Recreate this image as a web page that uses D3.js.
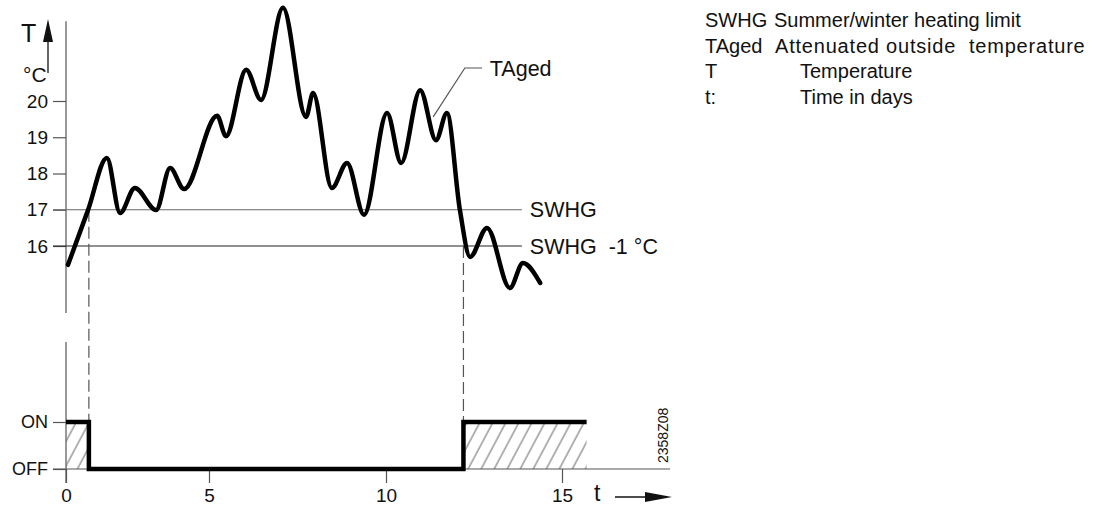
<!DOCTYPE html>
<html lang="en">
<head>
<meta charset="utf-8">
<title>SWHG - summer/winter heating limit</title>
<script src="https://cdnjs.cloudflare.com/ajax/libs/d3/7.8.5/d3.min.js"></script>
<style>
  body { margin: 0; background: #fff; }
  svg text { font-family: Arial, "Liberation Sans", sans-serif; fill: #111; }
  .thin { stroke: #555; stroke-width: 1.2px; fill: none; }
</style>
</head>
<body>
<div id="vis"></div>
<script>
// attenuated outside temperature (TAged)
var days  = [0.07, 0.77, 1.43, 1.89, 2.41, 3.15, 3.64, 4.13, 5.23, 5.48, 6.05, 6.47, 7.09, 7.74, 7.94,
             8.47, 8.90, 9.38, 10.03, 10.43, 10.97, 11.42, 11.73, 12.10, 12.39, 12.87, 13.52, 13.89, 14.38];
var taged = [15.48, 16.99, 18.43, 16.91, 17.60, 16.99, 18.15, 17.57, 19.59, 19.03, 20.86, 20.03, 22.57, 19.56, 20.22,
             17.60, 18.29, 16.86, 19.67, 18.29, 20.30, 18.92, 19.67, 16.99, 15.70, 16.50, 14.84, 15.53, 14.98];

// heating on/off switching
var switchDays  = [0, 0.8, 12.2, 15.7];
var switchState = ['ON', 'OFF', 'ON', 'ON'];

var tempTicks = [16, 17, 18, 19, 20];
var dayTicks = [0, 5, 10, 15];
var swhg = 17;
var limits = [{ v: swhg, label: 'SWHG' }, { v: swhg - 1, label: 'SWHG  -1 °C' }];

var legendKeys = ['SWHG', 'TAged', 'T', 't:'];
var legendText = ['Summer/winter heating limit', 'Attenuated outside  temperature', 'Temperature', 'Time in days'];

var width = 1104, height = 506;

var svg = d3.select('#vis').append('svg')
    .attr('width', width)
    .attr('height', height);

// drawing is not linear near the origin, so a polylinear scale
var x = d3.scaleLinear().domain([0, 5, 10, 15]).range([66, 209, 386, 562]);
var y = d3.scaleLinear().domain([16, 20]).range([246, 101]);
var ys = d3.scalePoint().domain(['OFF', 'ON']).range([469, 422]);

var defs = svg.append('defs');
defs.append('pattern')
    .attr('id', 'hatch')
    .attr('patternUnits', 'userSpaceOnUse')
    .attr('width', 11.5).attr('height', 11.5)
    .attr('patternTransform', 'rotate(28)')
    .append('line')
    .attr('x1', 1).attr('y1', 0).attr('x2', 1).attr('y2', 11.5)
    .attr('stroke', '#666').attr('stroke-width', 1);

// ---- upper chart ----
svg.append('line').attr('class', 'thin')
    .attr('x1', x(0)).attr('x2', x(0))
    .attr('y1', y(22.2)).attr('y2', y(14.15));

var yAxis = d3.axisLeft(y).tickValues(tempTicks).tickFormat(d3.format('d')).tickSize(13).tickPadding(5);
var gy = svg.append('g').attr('transform', 'translate(' + x(0) + ',0)').call(yAxis);
gy.select('.domain').remove();
gy.selectAll('.tick line').attr('stroke', '#555').attr('stroke-width', 1.2);
gy.selectAll('.tick text').style('font-size', '19px').attr('fill', '#111');

limits.forEach(function(d, i) {
    svg.append('line')
        .attr('x1', x(0) - 13).attr('x2', x(13.86))
        .attr('y1', y(d.v)).attr('y2', y(d.v))
        .attr('stroke', i === 0 ? '#666' : '#222').attr('stroke-width', 1.2);
    svg.append('text')
        .attr('x', x(13.86) + 8).attr('y', y(d.v))
        .attr('dy', '0.36em')
        .style('font-size', '21.5px')
        .style('white-space', 'pre')
        .text(d.label);
});

// dashed guides down to the switch
svg.append('line').attr('class', 'thin')
    .attr('x1', x(switchDays[1])).attr('x2', x(switchDays[1]))
    .attr('y1', y(swhg)).attr('y2', ys('ON'))
    .attr('stroke-dasharray', '12,5');
svg.append('line').attr('class', 'thin')
    .attr('x1', x(switchDays[2])).attr('x2', x(switchDays[2]))
    .attr('y1', y(swhg - 1)).attr('y2', ys('ON'))
    .attr('stroke-dasharray', '12,5');

var line = d3.line()
    .x(function(d, i) { return x(days[i]); })
    .y(function(d) { return y(d); })
    .curve(d3.curveMonotoneX);

svg.append('path')
    .datum(taged)
    .attr('d', line)
    .attr('fill', 'none')
    .attr('stroke', '#000')
    .attr('stroke-width', 4.5)
    .attr('stroke-linejoin', 'round')
    .attr('stroke-linecap', 'round');

// TAged leader
svg.append('path').attr('class', 'thin')
    .attr('d', 'M' + x(11.34) + ',' + y(19.56) + 'L' + x(12.24) + ',' + y(20.91) + 'L' + x(12.73) + ',' + y(20.91));
svg.append('text')
    .attr('x', x(12.95)).attr('y', y(20.91))
    .attr('dy', '0.36em')
    .style('font-size', '21.5px')
    .text('TAged');

// T arrow
svg.append('line').attr('x1', 48).attr('x2', 48).attr('y1', 73).attr('y2', 36)
    .attr('stroke', '#111').attr('stroke-width', 1.3);
svg.append('path').attr('d', 'M48,19L43,42L53,42Z').attr('fill', '#111');
svg.append('text').attr('x', 21).attr('y', 42).style('font-size', '25px').text('T');
svg.append('text').attr('x', 23).attr('y', 82).style('font-size', '21px').text('°C');

// ---- lower chart ----
svg.append('line').attr('class', 'thin')
    .attr('x1', x(0)).attr('x2', x(0))
    .attr('y1', 342).attr('y2', 483);

var hatchRanges = [[switchDays[0], switchDays[1]], [switchDays[2], switchDays[3]]];
svg.selectAll('.hatch')
    .data(hatchRanges)
    .enter().append('rect')
    .attr('class', 'hatch')
    .attr('x', function(d) { return x(d[0]); })
    .attr('width', function(d) { return x(d[1]) - x(d[0]); })
    .attr('y', ys('ON'))
    .attr('height', ys('OFF') - ys('ON'))
    .attr('fill', 'url(#hatch)');

var xAxis = d3.axisBottom(x).tickValues(dayTicks).tickSize(14).tickPadding(6);
var gx = svg.append('g').attr('transform', 'translate(0,' + ys('OFF') + ')').call(xAxis);
gx.select('.domain').remove();
gx.selectAll('.tick line').attr('stroke', '#555').attr('stroke-width', 1.2);
gx.selectAll('.tick text').style('font-size', '19px').attr('fill', '#111');

svg.append('line').attr('class', 'thin')
    .attr('x1', x(0) - 13).attr('x2', x(18.07))
    .attr('y1', ys('OFF')).attr('y2', ys('OFF'));

var sAxis = d3.axisLeft(ys).tickSize(13).tickPadding(5);
var gs = svg.append('g').attr('transform', 'translate(' + x(0) + ',0)').call(sAxis);
gs.select('.domain').remove();
gs.selectAll('.tick line').attr('stroke', '#555').attr('stroke-width', 1.2);
gs.selectAll('.tick text').style('font-size', '18px').attr('fill', '#111');

var step = d3.line()
    .x(function(d, i) { return x(switchDays[i]); })
    .y(function(d) { return ys(d); })
    .curve(d3.curveStepAfter);

svg.append('path')
    .datum(switchState)
    .attr('d', step)
    .attr('fill', 'none')
    .attr('stroke', '#000')
    .attr('stroke-width', 4.5);

// t arrow
svg.append('text').attr('x', 594).attr('y', 501).style('font-size', '23px').text('t');
svg.append('line').attr('x1', 615).attr('x2', 650).attr('y1', 497).attr('y2', 497)
    .attr('stroke', '#111').attr('stroke-width', 1.3);
svg.append('path').attr('d', 'M672,497L645,492L645,502Z').attr('fill', '#111');

svg.append('text')
    .attr('transform', 'translate(668,463) rotate(-90)')
    .style('font-size', '14px')
    .text('2358Z08');

// ---- legend ----
var descX = [774, 775, 800, 800];
var legend = svg.append('g');
legendKeys.forEach(function(k, i) {
    legend.append('text').attr('x', 705).attr('y', 27 + i * 25.7)
        .style('font-size', '20px').text(k);
    legend.append('text').attr('x', descX[i]).attr('y', 27 + i * 25.7)
        .style('font-size', '20px').style('white-space', 'pre')
        .style('letter-spacing', i === 1 ? '0.8px' : null)
        .text(legendText[i]);
});
</script>
</body>
</html>
